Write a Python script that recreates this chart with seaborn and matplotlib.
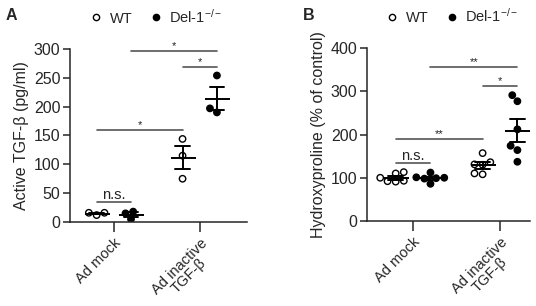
import matplotlib
matplotlib.use("Agg")
import numpy as np
import pandas as pd
import matplotlib.pyplot as plt
from matplotlib.lines import Line2D
import seaborn as sns

# categories
treatments = ["Ad mock", "Ad inactive\nTGF-β"]
genotypes = ["WT", "Del-1"]

# Panel A - active TGF-beta (pg/ml), n = 3 per group
tgf_wt_mock = [16, 12, 16]
tgf_del_mock = [18, 5, 15]
tgf_wt_inactive = [144, 115, 75]
tgf_del_inactive = [254, 190, 197]

# Panel B - hydroxyproline (% of control), n = 6 per group
hyp_wt_mock = [113, 110, 100, 93, 91, 92]
hyp_del_mock = [112, 100, 101, 99, 98, 86]
hyp_wt_inactive = [157, 136, 131, 130, 110, 108]
hyp_del_inactive = [291, 277, 212, 174, 164, 137]

# significance brackets: (treatment, genotype, treatment, genotype, height, label)
sig_a = [(0, "WT", 0, "Del-1", 35, "n.s."),
         (0, "WT", 1, "WT", 160, "*"),
         (1, "WT", 1, "Del-1", 268, "*"),
         (0, "Del-1", 1, "Del-1", 297, "*")]
sig_b = [(0, "WT", 0, "Del-1", 134, "n.s."),
         (0, "WT", 1, "WT", 189, "**"),
         (1, "WT", 1, "Del-1", 313, "*"),
         (0, "Del-1", 1, "Del-1", 355, "**")]

# seaborn's swarmplot dodge puts the hue levels at +/- 0.2
DODGE = 0.4


def long_table(wt_mock, del_mock, wt_inact, del_inact):
    rows = []
    for trt, gen, vals in [(treatments[0], "WT", wt_mock),
                           (treatments[0], "Del-1", del_mock),
                           (treatments[1], "WT", wt_inact),
                           (treatments[1], "Del-1", del_inact)]:
        for v in vals:
            rows.append({"treatment": trt, "genotype": gen, "value": v})
    return pd.DataFrame(rows)


sns.set_style("ticks")
plt.rcParams["font.family"] = ["Liberation Sans", "DejaVu Sans"]
plt.rcParams["mathtext.fontset"] = "custom"
plt.rcParams["mathtext.rm"] = "Liberation Sans"
plt.rcParams["mathtext.default"] = "rm"


def draw_panel(ax, df, sig, yticks, ylabel, xlim):
    sns.swarmplot(data=df, x="treatment", y="value", hue="genotype",
                  order=treatments, hue_order=genotypes, dodge=True,
                  size=4.6, linewidth=1, edgecolor="black",
                  palette={"WT": "white", "Del-1": "black"}, legend=False,
                  ax=ax)
    sns.pointplot(data=df, x="treatment", y="value", hue="genotype",
                  order=treatments, hue_order=genotypes, dodge=DODGE,
                  palette={"WT": "black", "Del-1": "black"},
                  errorbar="se", capsize=0.17, markers="_", markersize=18,
                  markeredgewidth=1.4, linestyle="none",
                  err_kws={"linewidth": 1.4}, legend=False, ax=ax)
    for coll in ax.collections:
        coll.set_zorder(2)

    offs = {"WT": -DODGE / 2, "Del-1": DODGE / 2}
    for t1, g1, t2, g2, h, lab in sig:
        x1 = t1 + offs[g1]
        x2 = t2 + offs[g2]
        ax.plot([x1, x2], [h, h], color="#555555", lw=1.2, clip_on=False)
        fs = 10.5 if lab == "n.s." else 8
        ax.text((x1 + x2) / 2, h, lab, ha="center", va="bottom",
                fontsize=fs, color="#222222")

    ax.set_xlim(*xlim)
    ax.set_ylim(yticks[0], yticks[-1])
    ax.set_yticks(yticks)
    ax.set_xlabel("")
    ax.set_ylabel(ylabel, fontsize=11.5, labelpad=3)
    ax.set_xticks(range(len(treatments)))
    ax.set_xticklabels(treatments, rotation=45, ha="right",
                       rotation_mode="anchor", multialignment="center",
                       linespacing=1.0, fontsize=10.5)
    ax.tick_params(axis="y", labelsize=11.5, length=5, width=1.1, pad=2)
    ax.tick_params(axis="x", length=7, width=1.1, pad=3)
    for s in ["left", "bottom"]:
        ax.spines[s].set_linewidth(1.1)
    sns.despine(ax=ax)

    handles = [Line2D([0], [0], marker="o", ls="none", mfc="white",
                      mec="black", ms=4.5, mew=1),
               Line2D([0], [0], marker="o", ls="none", mfc="black",
                      mec="black", ms=4.5, mew=1)]
    ax.legend(handles, ["WT", "Del-1$^{-/-}$"], loc="center left",
              bbox_to_anchor=(0.075, 1.187), borderaxespad=0, ncol=2,
              frameon=False, fontsize=10.5, handletextpad=0.4,
              columnspacing=1.15, handlelength=1.0)


fig = plt.figure(figsize=(5.36, 3.06), dpi=100)
ax_a = fig.add_axes([0.1306, 0.2745, 0.3302, 0.5655])
ax_b = fig.add_axes([0.6847, 0.2778, 0.3041, 0.5652])

df_a = long_table(tgf_wt_mock, tgf_del_mock, tgf_wt_inactive, tgf_del_inactive)
df_b = long_table(hyp_wt_mock, hyp_del_mock, hyp_wt_inactive, hyp_del_inactive)

draw_panel(ax_a, df_a, sig_a, list(range(0, 301, 50)),
           "Active TGF-β (pg/ml)", (-0.51, 1.55))
draw_panel(ax_b, df_b, sig_b, list(range(0, 401, 100)),
           "Hydroxyproline (% of control)", (-0.53, 1.345))

fig.text(0.01, 0.975, "A", fontsize=11.5, fontweight="bold", va="top")
fig.text(0.565, 0.975, "B", fontsize=11.5, fontweight="bold", va="top")

fig.savefig("out.png", dpi=100)
